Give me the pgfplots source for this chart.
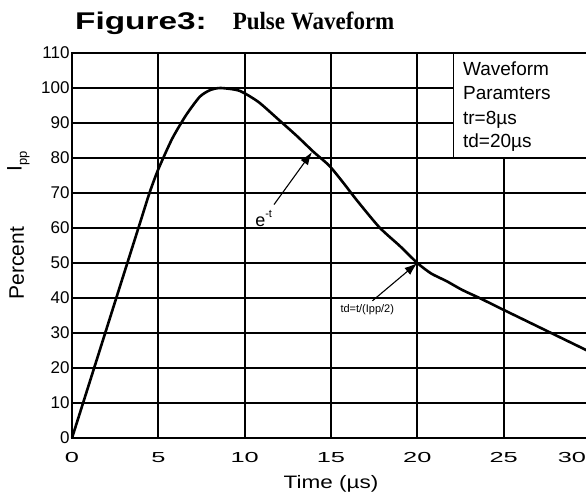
\documentclass[border=0pt]{standalone}
\usepackage{fontspec}
\setmainfont{Liberation Sans}
\newfontfamily\timesfont{Liberation Serif}
\usepackage{pgfplots}
\usepackage{pgfplotstable}
\pgfplotsset{compat=1.18}
\usetikzlibrary{arrows.meta}
\newcommand{\xs}[1]{\scalebox{1.75}[1]{#1}}
\pgfplotstableread{
x y
0 0
1 15.6
2 31.2
3 46.8
4 62.4
4.5 70.2
5 76.8
5.8 85.5
6.6 92.2
7.4 97.5
8 99.4
8.6 100
9.7 99.2
10.8 96
12 90.8
13 86.4
14 81.7
14.9 77.8
15.7 73
16.5 67.9
17.8 60.2
19 54.8
20 50
20.8 47
21.7 44.8
22.6 42.3
23.6 40
25 36.6
26.5 33
28 29.4
30 24.6
}\pulse
\begin{document}
\begin{tikzpicture}
\begin{axis}[name=ax, scale only axis, width=518pt, height=385pt,
  xmin=0, xmax=30, ymin=0, ymax=110,
  xtick={0,5,...,30}, ytick={0,10,...,110},
  xticklabels={\xs{0},\xs{5},\xs{10},\xs{15},\xs{20},\xs{25},{\llap{\xs{30}\hspace{4pt}}}},
  grid=major, major grid style={black, line width=1.8pt},
  axis line style={black, line width=1.8pt},
  major tick length=0pt,
  /pgf/number format/assume math mode=true,
  yticklabel style={font=\fontsize{17}{19}\selectfont, xshift=1pt},
  xticklabel style={font=\fontsize{14.5}{16}\selectfont, yshift=-11pt},
  xlabel={\scalebox{1.25}[1]{Time (µs)}},
  xlabel style={font=\fontsize{18}{20}\selectfont, yshift=-6pt},
  clip=false]
\addplot[black, line width=2.6pt, smooth, tension=0.4] table[x=x, y=y] {\pulse};
\draw[black, line width=1.8pt, fill=white] (axis cs:22.1,80) rectangle (axis cs:30,110);
\node[anchor=base west, inner sep=0, font=\fontsize{19}{22}\selectfont] at (axis cs:22.64,103.6) {Waveform};
\node[anchor=base west, inner sep=0, font=\fontsize{19}{22}\selectfont] at (axis cs:22.64,96.6) {Paramters};
\node[anchor=base west, inner sep=0, font=\fontsize{19}{22}\selectfont] at (axis cs:22.64,89.7) {tr=8µs};
\node[anchor=base west, inner sep=0, font=\fontsize{19}{22}\selectfont] at (axis cs:22.64,83.0) {td=20µs};
\draw[black, line width=1.1pt, -{Latex[length=13pt,width=9pt]}] (axis cs:11.7,66.7) -- (axis cs:13.9,81.7);
\node[font=\fontsize{18}{20}\selectfont] at (axis cs:11.1,62.6) {e\raisebox{0.5em}{\fontsize{11}{12}\selectfont -t}};
\draw[black, line width=1.1pt, -{Latex[length=13pt,width=9pt]}] (axis cs:17.4,39.2) -- (axis cs:20,50);
\node[font=\fontsize{11}{12}\selectfont] at (axis cs:17.1,36.6) {td=t/(Ipp/2)};
\node[rotate=90, font=\fontsize{21}{24}\selectfont] at (axis cs:-3.2,50) {Percent};
\node[rotate=90, font=\fontsize{21}{24}\selectfont] at (axis cs:-3.1,79) {I\raisebox{-0.25em}{\fontsize{13}{14}\selectfont pp}};
\end{axis}
\node[anchor=base west, inner sep=0] at ([xshift=3pt,yshift=23pt]ax.north west)
  {\fontsize{23}{26}\selectfont\bfseries\scalebox{1.45}[1.05]{Figure3:}\hspace{26pt}{\timesfont\bfseries\scalebox{1}[1.08]{Pulse Waveform}}};
\pgfresetboundingbox
\path[use as bounding box] ([xshift=-72pt,yshift=-60pt]ax.south west) rectangle ([xshift=-4pt,yshift=53pt]ax.north east);
\end{tikzpicture}
\end{document}
